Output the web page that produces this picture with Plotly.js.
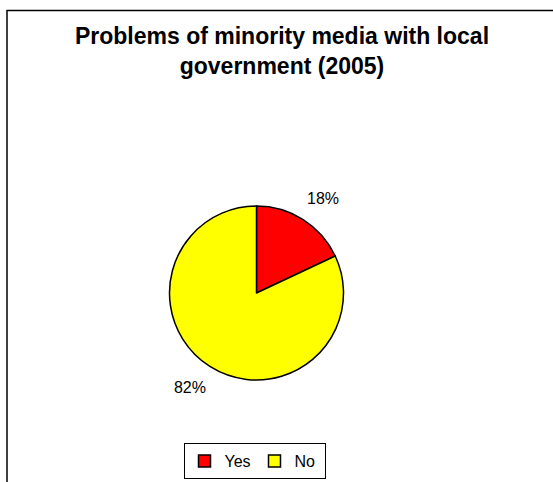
<!DOCTYPE html>
<html>
<head>
<meta charset="utf-8">
<script src="https://cdn.plot.ly/plotly-3.0.1.min.js"></script>
<style>
html, body { margin: 0; padding: 0; background: #fff; }
#chart { width: 553px; height: 482px; }
</style>
</head>
<body>
<div id="chart"></div>
<script>
const labels = ["Yes", "No"];
const values = [18, 82];
const colors = ["#FF0000", "#FFFF00"];
const titleText = "Problems of minority media with local<br>government (2005)";

const W = 553, H = 482;
const cx = 256.5, cy = 293, r = 87, rText = 99;

function dom(rad) {
  return {
    x: [(cx - rad) / W, (cx + rad) / W],
    y: [1 - (cy + rad) / H, 1 - (cy - rad) / H]
  };
}

const pieTrace = {
  type: "pie",
  labels: labels,
  values: values,
  sort: false,
  direction: "clockwise",
  rotation: 0,
  marker: { colors: colors, line: { color: "#000000", width: 1.5 } },
  textinfo: "none",
  hoverinfo: "none",
  domain: dom(r)
};

// invisible companion pie used only to place the outside percentage labels
const labelTrace = {
  type: "pie",
  labels: labels,
  values: values,
  sort: false,
  direction: "clockwise",
  rotation: -4.5,
  showlegend: false,
  marker: { colors: ["rgba(0,0,0,0)", "rgba(0,0,0,0)"], line: { width: 0 } },
  textinfo: "percent",
  texttemplate: "%{percent:.0%}",
  textposition: "outside",
  outsidetextfont: { family: "Liberation Sans, Arial, sans-serif", size: 16, color: "#000000" },
  hoverinfo: "none",
  domain: dom(rText)
};

const layout = {
  width: W,
  height: H,
  margin: { l: 0, r: 0, t: 0, b: 0 },
  paper_bgcolor: "#ffffff",
  showlegend: true,
  title: {
    text: titleText,
    font: { family: "Liberation Sans, Arial, sans-serif", size: 23, color: "#000000", weight: "bold" },
    x: 282 / W,
    xanchor: "center",
    xref: "paper",
    y: 1 - 44 / H,
    yanchor: "top",
    yref: "container"
  },
  legend: {
    orientation: "h",
    x: 254.5 / W,
    xanchor: "center",
    y: 1 - 479 / H,
    yanchor: "bottom",
    bordercolor: "#000000",
    borderwidth: 1,
    bgcolor: "#ffffff",
    font: { family: "Liberation Sans, Arial, sans-serif", size: 16, color: "#000000" },
    itemwidth: 30,
    entrywidth: 25,
    tracegroupgap: 0
  },
  shapes: [{
    type: "rect",
    xref: "paper", yref: "paper",
    x0: 7 / W, x1: 1.02,
    y0: -0.02, y1: 1 - 10.5 / H,
    line: { color: "#000000", width: 1.5 },
    fillcolor: "rgba(0,0,0,0)",
    layer: "below"
  }]
};

Plotly.newPlot("chart", [pieTrace, labelTrace], layout, { displayModeBar: false, staticPlot: true });
</script>
</body>
</html>
